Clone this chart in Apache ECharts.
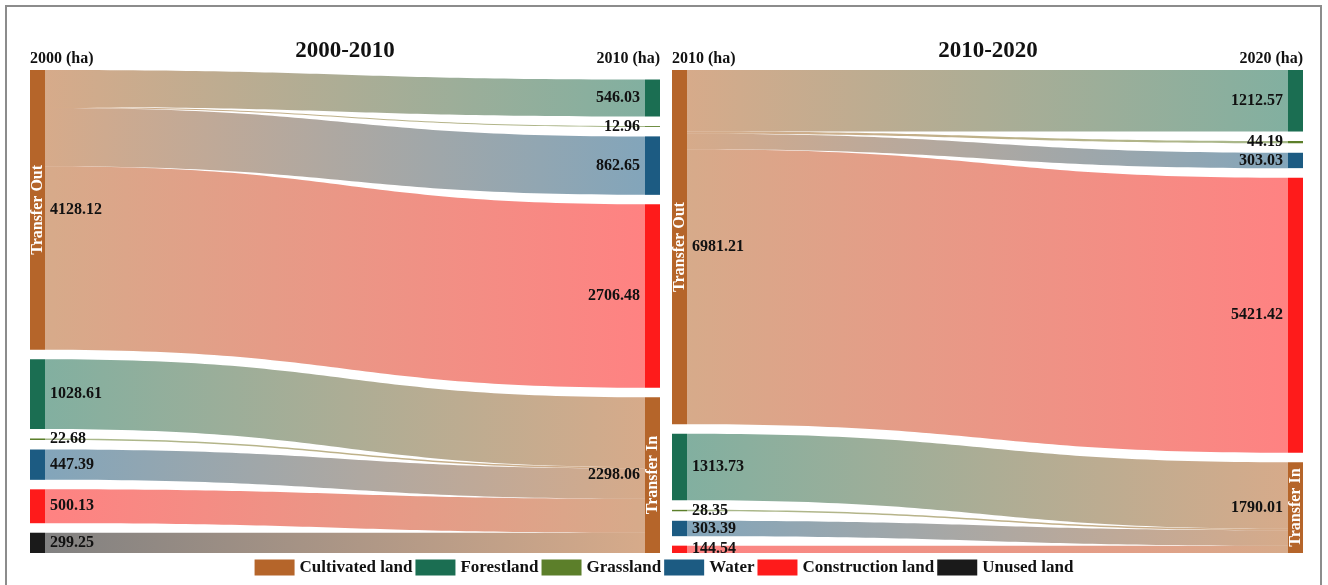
<!DOCTYPE html>
<html><head><meta charset="utf-8">
<script src="https://cdn.jsdelivr.net/npm/echarts@6/dist/echarts.min.js"></script>
<style>
html,body{margin:0;padding:0;background:#fff;overflow:hidden}
#frame{position:absolute;left:5px;top:5px;width:1317px;height:640px;border:2px solid #8c8c8c;box-sizing:border-box}
#chart{position:absolute;left:0;top:0;width:1328px;height:585px}
</style></head>
<body><div id="frame"></div><div id="chart"></div>
<script>
// ---------------- data ----------------
const categories = ['Cultivated land', 'Forestland', 'Grassland', 'Water', 'Construction land', 'Unused land'];
const catColors  = ['#B5652A', '#1B6E52', '#5C7F2A', '#1C5B82', '#FE1B1B', '#1A1A1A'];

const titles = ['2000-2010', '2010-2020'];
const yearLabels = [['2000 (ha)', '2010 (ha)'], ['2010 (ha)', '2020 (ha)']];

// 2000-2010: cultivated land transferred out to ...
const out1Cats = ['Forestland', 'Grassland', 'Water', 'Construction land'];
const out1Vals = [546.03, 12.96, 862.65, 2706.48];
// 2000-2010: transferred in to cultivated land from ...
const in1Cats = ['Forestland', 'Grassland', 'Water', 'Construction land', 'Unused land'];
const in1Vals = [1028.61, 22.68, 447.39, 500.13, 299.25];

// 2010-2020
const out2Cats = ['Forestland', 'Grassland', 'Water', 'Construction land'];
const out2Vals = [1212.57, 44.19, 303.03, 5421.42];
const in2Cats = ['Forestland', 'Grassland', 'Water', 'Construction land'];
const in2Vals = [1313.73, 28.35, 303.39, 144.54];

// --------------------------------------
const FONT = "'Times New Roman', 'Liberation Serif', serif";
const colorOf = c => catColors[categories.indexOf(c)];

function buildSankey(box, outCats, outVals, inCats, inVals, overlay) {
  const base = categories[0];
  const L = c => c + ' \u2039L\u203A';
  const R = c => c + ' \u2039R\u203A';
  const nodes = [];
  const valueLabel = pos => ({
    show: !overlay, position: pos, distance: 5,
    fontFamily: FONT, fontWeight: 'bold', fontSize: 16, color: '#111',
    formatter: p => Number(p.value).toFixed(2)
  });
  const transferLabel = txt => ({
    show: true, position: 'inside', rotate: 90,
    fontFamily: FONT, fontWeight: 'bold', fontSize: 16, color: '#fff',
    formatter: txt
  });
  const nodeStyle = c => overlay ? { color: 'rgba(0,0,0,0)', borderWidth: 0 } : { color: colorOf(c), borderWidth: 0 };
  // left column
  nodes.push({ name: L(base), itemStyle: nodeStyle(base),
    label: overlay ? transferLabel('Transfer Out') : valueLabel('right') });
  inCats.forEach(c => nodes.push({ name: L(c), itemStyle: nodeStyle(c), label: overlay ? { show: false } : valueLabel('right') }));
  // right column: when it holds fewer nodes than the left one, the free gap sits on top (as in the original)
  if (outCats.length + 1 < inCats.length + 1) {
    nodes.push({ name: 'spacer', value: 0, itemStyle: { color: 'rgba(0,0,0,0)' }, label: { show: false } });
  }
  outCats.forEach(c => nodes.push({ name: R(c), itemStyle: nodeStyle(c), label: overlay ? { show: false } : valueLabel('left') }));
  nodes.push({ name: R(base), itemStyle: nodeStyle(base),
    label: overlay ? transferLabel('Transfer In') : valueLabel('left') });

  const links = [];
  outCats.forEach((c, i) => links.push({ source: L(base), target: R(c), value: outVals[i] }));
  inCats.forEach((c, i) => links.push({ source: L(c), target: R(base), value: inVals[i] }));

  return {
    type: 'sankey',
    left: box.left, top: box.top, width: box.width, height: box.height,
    nodeWidth: 15, nodeGap: 9.5, nodeAlign: 'justify',
    layoutIterations: 0,
    draggable: false, silent: overlay, z: overlay ? 5 : 2,
    emphasis: { disabled: true },
    data: nodes, links: links,
    lineStyle: overlay ? { color: 'rgba(0,0,0,0)', opacity: 0 } : { color: 'gradient', opacity: 0.55, curveness: 0.5 },
    label: { show: !overlay }
  };
}

const boxes = [
  { left: 30, top: 70, width: 630, height: 483, titleX: 345 },
  { left: 672, top: 70, width: 631, height: 483, titleX: 988 }
];

const series = [
  buildSankey(boxes[0], out1Cats, out1Vals, in1Cats, in1Vals, false),
  buildSankey(boxes[1], out2Cats, out2Vals, in2Cats, in2Vals, false),
  buildSankey(boxes[0], out1Cats, out1Vals, in1Cats, in1Vals, true),
  buildSankey(boxes[1], out2Cats, out2Vals, in2Cats, in2Vals, true)
];
// legend carriers
categories.forEach((c, i) => series.push({
  type: 'bar', name: c, data: [], xAxisIndex: 0, yAxisIndex: 0,
  itemStyle: { color: catColors[i] }
}));

const graphics = [];
boxes.forEach((b, i) => {
  graphics.push({ type: 'text', x: b.titleX, y: 51, style: { text: titles[i], fontFamily: FONT, fontWeight: 'bold', fontSize: 23, fill: '#111', textAlign: 'center', textVerticalAlign: 'middle' } });
  graphics.push({ type: 'text', x: b.left, y: 59, style: { text: yearLabels[i][0], fontFamily: FONT, fontWeight: 'bold', fontSize: 16, fill: '#111', textAlign: 'left', textVerticalAlign: 'middle' } });
  graphics.push({ type: 'text', x: b.left + b.width, y: 59, style: { text: yearLabels[i][1], fontFamily: FONT, fontWeight: 'bold', fontSize: 16, fill: '#111', textAlign: 'right', textVerticalAlign: 'middle' } });
});

const chart = echarts.init(document.getElementById('chart'), null, { renderer: 'canvas' });
chart.setOption({
  backgroundColor: 'rgba(0,0,0,0)',
  animation: false,
  grid: { show: false, left: -200, top: -200, width: 10, height: 10 },
  xAxis: { show: false, type: 'category', data: [] },
  yAxis: { show: false, type: 'value' },
  legend: {
    data: categories, bottom: 4, left: 'center',
    icon: 'rect', itemWidth: 40, itemHeight: 16, itemGap: 3,
    textStyle: { fontFamily: FONT, fontWeight: 'bold', fontSize: 17, color: '#111' },
    selectedMode: false
  },
  graphic: graphics,
  series: series
});
</script>
</body></html>
